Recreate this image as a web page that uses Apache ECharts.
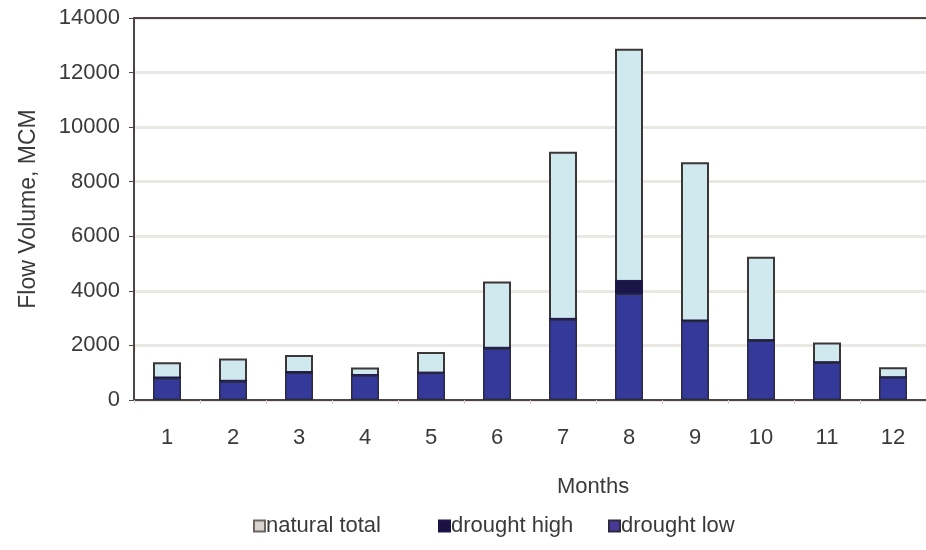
<!DOCTYPE html>
<html>
<head>
<meta charset="utf-8">
<script src="https://cdn.jsdelivr.net/npm/echarts@6/dist/echarts.min.js"></script>
<style>
  html, body { margin: 0; padding: 0; background: #ffffff; }
  #chart { width: 926px; height: 550px; }
</style>
</head>
<body>
<div id="chart"></div>
<script>
// Monthly flow volumes (MCM)
const months = ['1', '2', '3', '4', '5', '6', '7', '8', '9', '10', '11', '12'];
const naturalTotal = [1380, 1520, 1650, 1190, 1760, 4340, 9100, 12870, 8710, 5250, 2110, 1200];
const droughtHigh  = [860, 740, 1060, 950, 1040, 1950, 3010, 4400, 2950, 2230, 1420, 870];
const droughtLow   = [810, 690, 1010, 910, 1000, 1900, 2960, 3900, 2900, 2180, 1370, 830];
const yTicks = { min: 0, max: 14000, interval: 2000 };

const seriesNames = ['natural total', 'drought high', 'drought low'];
const fills = ['#cfe9ef', '#1b1648', '#34399a'];
const font = 'Liberation Sans, Arial, sans-serif';
const axisColor = '#4d4444';

const chart = echarts.init(document.getElementById('chart'));

const barBase = {
  type: 'bar',
  barWidth: 28,
  barGap: '-100%',
  animation: false
};

// one legend block per entry, placed side by side under the axis title
const legendSwatches = [
  { color: '#d9d4d0', borderColor: '#6e6462', borderWidth: 2 },
  { color: '#1b1040' },
  { color: '#4a3898' }
];
const legendLefts = [248, 433, 603];
const legends = seriesNames.map((name, i) => ({
  bottom: 8,
  left: legendLefts[i],
  itemWidth: 11,
  itemHeight: 11,
  icon: 'rect',
  textStyle: { fontFamily: font, fontSize: 22, color: '#3a3a3a', padding: [0, 0, 0, -4] },
  data: [{ name: name, itemStyle: legendSwatches[i] }]
}));

chart.setOption({
  backgroundColor: '#ffffff',
  grid: { left: 134, right: -4, top: 18, bottom: 150 },
  legend: legends,
  xAxis: [{
    type: 'category',
    data: months,
    axisLine: { lineStyle: { color: axisColor, width: 2 } },
    axisTick: { show: true, length: 4, lineStyle: { color: '#d8d0c8' } },
    axisLabel: { fontFamily: font, fontSize: 22, color: '#3a3a3a', margin: 27 }
  }, {
    // top frame line of the plot area
    type: 'category',
    data: months,
    position: 'top',
    axisLine: { lineStyle: { color: axisColor, width: 2 } },
    axisTick: { show: false },
    axisLabel: { show: false }
  }],
  yAxis: {
    type: 'value',
    min: yTicks.min, max: yTicks.max, interval: yTicks.interval,
    name: 'Flow Volume, MCM',
    nameLocation: 'middle',
    nameGap: 94,
    nameTextStyle: { fontFamily: font, fontSize: 23, color: '#3a3a3a' },
    axisLine: { show: true, lineStyle: { color: axisColor, width: 2 } },
    axisTick: { show: true, length: 5, lineStyle: { color: axisColor } },
    axisLabel: {
      fontFamily: font, fontSize: 22, color: '#3a3a3a', margin: 14,
      formatter: v => String(v)
    },
    splitLine: { lineStyle: { color: '#ebe7e3', width: 3 } }
  },
  graphic: [{
    type: 'text',
    left: 557, top: 476,
    style: { text: 'Months', font: '22px ' + font, fill: '#3a3a3a' }
  }],
  series: [
    Object.assign({}, barBase, {
      name: seriesNames[0], data: naturalTotal,
      itemStyle: { color: fills[0], borderColor: '#3c3636', borderWidth: 2 }
    }),
    Object.assign({}, barBase, {
      name: seriesNames[1], data: droughtHigh,
      itemStyle: { color: fills[1], borderColor: '#1b1648', borderWidth: 1 }
    }),
    Object.assign({}, barBase, {
      name: seriesNames[2], data: droughtLow,
      itemStyle: { color: fills[2], borderColor: '#2a2a40', borderWidth: 1.5 }
    })
  ]
});
</script>
</body>
</html>
